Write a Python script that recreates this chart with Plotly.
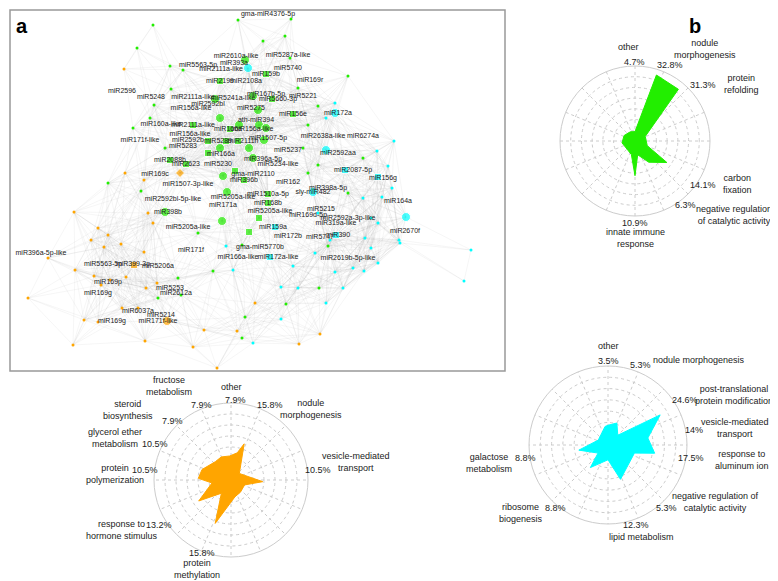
import math
import plotly.graph_objects as go

W, H = 778, 581
GREEN, ORANGE, CYAN = "#22ee00", "#ffa500", "#00ffff"

# ---------------- network (pixel positions) ----------------
big_nodes = [  # x, y, colour, symbol
    (237, 52, "g", "circle"), (240, 60, "c", "circle"), (258, 66, "g", "square"), (212, 73, "g", "square"),
    (207, 91, "g", "circle"), (245, 88, "g", "circle"), (264, 91, "g", "square"), (250, 102, "g", "circle"),
    (285, 106, "g", "square"), (327, 105, "c", "circle"), (212, 110, "g", "circle"), (231, 117, "g", "circle"),
    (185, 117, "g", "square"), (251, 117, "g", "circle"), (258, 120, "g", "circle"), (222, 121, "g", "square"),
    (256, 132, "g", "circle"), (200, 133, "g", "square"), (218, 133, "g", "square"), (230, 133, "g", "square"),
    (241, 140, "g", "circle"), (318, 142, "c", "circle"), (162, 152, "g", "square"), (178, 156, "g", "square"),
    (172, 165, "o", "diamond"), (215, 168, "g", "circle"), (227, 163, "g", "square"), (337, 162, "c", "square"),
    (370, 169, "c", "square"), (236, 172, "g", "square"), (305, 184, "c", "circle"), (260, 186, "g", "square"),
    (219, 184, "g", "circle"), (260, 195, "g", "square"), (157, 204, "g", "circle"), (214, 213, "g", "circle"),
    (251, 210, "g", "square"), (241, 224, "g", "square"), (398, 209, "c", "circle"), (267, 219, "c", "square"),
    (328, 227, "c", "square"), (262, 249, "c", "square"), (126, 257, "o", "square"), (159, 313, "o", "circle"),
    (200, 145, "g", "square"), (212, 140, "g", "circle"), (245, 150, "g", "circle"),
]
small_nodes = [
    (66, 204, "o"), (90, 220, "o"), (100, 227, "o"), (140, 205, "o"), (145, 215, "o"), (83, 232, "o"),
    (96, 239, "o"), (113, 236, "o"), (136, 244, "o"), (67, 262, "o"), (86, 268, "o"), (118, 269, "o"),
    (93, 277, "o"), (102, 272, "o"), (138, 280, "o"), (149, 275, "o"), (114, 300, "o"), (90, 314, "o"),
    (76, 312, "o"), (65, 337, "o"), (137, 333, "o"), (185, 339, "o"), (209, 360, "o"), (247, 295, "o"),
    (229, 323, "o"), (196, 322, "o"), (130, 300, "o"), (291, 336, "o"), (116, 61, "o"), (117, 165, "o"),
    (136, 172, "o"), (40, 250, "o"), (20, 290, "o"), (312, 326, "o"),
    (145, 17, "g"), (129, 40, "g"), (162, 58, "g"), (175, 62, "g"), (255, 33, "g"), (277, 28, "g"),
    (340, 68, "g"), (290, 80, "g"), (282, 50, "g"), (163, 81, "g"), (146, 97, "g"), (142, 110, "g"),
    (157, 140, "g"), (133, 183, "g"), (190, 225, "g"), (234, 237, "g"), (205, 263, "g"), (320, 238, "g"),
    (234, 330, "g"), (237, 309, "g"), (278, 296, "g"), (150, 290, "g"), (173, 287, "g"), (170, 270, "g"),
    (100, 175, "g"), (125, 120, "g"), (300, 165, "g"), (340, 185, "g"), (295, 140, "g"), (310, 157, "g"),
    (310, 98, "g"), (300, 117, "g"), (355, 150, "g"), (283, 11, "g"), (230, 12, "g"), (311, 280, "g"),
    (318, 110, "c"), (327, 95, "c"), (355, 190, "c"), (363, 210, "c"), (357, 230, "c"), (335, 280, "c"),
    (290, 280, "c"), (307, 245, "c"), (285, 258, "c"), (318, 295, "c"), (356, 263, "c"), (392, 235, "c"),
    (374, 189, "c"), (384, 180, "c"), (370, 215, "c"), (345, 260, "c"), (370, 255, "c"), (363, 240, "c"),
    (273, 279, "c"), (225, 262, "c"), (218, 238, "c"), (310, 205, "c"), (322, 232, "c"), (380, 158, "c"),
    (386, 133, "c"), (369, 143, "c"), (391, 232, "c"), (273, 311, "c"), (245, 335, "c"),
    (463, 242, "c"), (456, 273, "c"), (327, 264, "c"),
]
node_labels = [
    ("gma-miR4376-5p", 260, 6), ("miR2610a-like", 228, 48), ("miR5287a-like", 280, 47), ("miR5563-5p", 190, 57),
    ("miR393a", 226, 55), ("miR2111a-like", 213, 61), ("miR5740", 280, 60), ("miR159b", 258, 66),
    ("miR169r", 302, 72), ("miR2199", 212, 73), ("miR2108a", 238, 73), ("miR2596", 114, 83), ("miR5248", 143, 89),
    ("miR5221", 295, 88), ("miR2111a-like", 185, 89), ("miR2592bl", 200, 96), ("miR5241a-like", 225, 90),
    ("miR167b-5p", 258, 86), ("miR5660-3p", 270, 91), ("miR156a-like", 183, 100), ("miR5275", 243, 100),
    ("miR156e", 285, 106), ("miR172a", 330, 105), ("ath-miR394", 248, 112), ("miR160a-like", 153, 116),
    ("miR2111a-like", 185, 117), ("miR166a", 220, 121), ("miR156a-like", 245, 121), ("miR6274a", 355, 128),
    ("miR171f-like", 132, 132), ("miR156a-like", 182, 126), ("miR1507-5p", 260, 130), ("miR2638a-like", 315, 128),
    ("miR2592b", 180, 132), ("miR5289", 210, 133), ("miR2111h", 235, 133), ("miR5283", 175, 138),
    ("miR2592aa", 330, 145), ("miR5237", 280, 142), ("miR166a", 213, 146), ("miR396a-5p", 255, 151),
    ("miR2088b", 162, 152), ("miR2623", 178, 156), ("miR5230", 210, 156), ("miR5234-like", 270, 156),
    ("miR169c", 147, 166), ("gma-miR2110", 245, 166), ("miR2087-5p", 345, 162), ("miR156g", 375, 170),
    ("miR1507-3p-like", 180, 176), ("miR396b", 236, 172), ("miR162", 280, 174), ("sly-miR482", 305, 184),
    ("miR398a-5p", 320, 180), ("miR1510a-5p", 260, 186), ("miR2592bl-5p-like", 165, 191),
    ("miR5205a-like", 225, 189), ("miR164a", 390, 193), ("miR168b", 260, 195), ("miR171a", 215, 197),
    ("miR398b", 160, 204), ("miR5205a-like", 262, 203), ("miR5215", 313, 201), ("miR169d-5p", 300, 207),
    ("miR2592a-3p-like", 340, 210), ("miR319a-like", 328, 215), ("miR5205a-like", 180, 219),
    ("miR159a", 265, 219), ("miR2670f", 397, 223), ("miR172b", 280, 228), ("miR5747", 312, 229),
    ("miR390", 330, 227), ("gma-miR5770b", 252, 239), ("miR171f", 183, 242), ("miR396a-5p-like", 33, 245),
    ("miR166a-like", 230, 249), ("miR172a-like", 270, 249), ("miR2619b-5p-like", 340, 250),
    ("miR5563-5p", 95, 256), ("miR399-3p", 125, 256), ("miR5206a", 150, 258), ("miR169p", 100, 274),
    ("miR5253", 162, 280), ("miR169g", 90, 285), ("miR2612a", 168, 285), ("miR6037a", 130, 303),
    ("miR5214", 153, 307), ("miR169g", 104, 313), ("miR171f-like", 150, 313),
]

# ---------------- radar data ----------------
green_theta = [0, 18, 40, 66, 111, 124, 147, 169, 180, 195, 262, 297, 333]
green_r = [10, 74, 72, 12, 14, 41, 27, 15, 37, 15, 14, 13, 11]
green_labels = [("other", 620, 39), ("4.7%", 626, 54), ("nodule<br>morphogenesis", 697, 41), ("32.8%", 662, 57),
                ("31.3%", 695, 77), ("protein<br>refolding", 733, 76), ("14.1%", 695, 177),
                ("carbon<br>fixation", 729, 176), ("6.3%", 677, 197),
                ("negative regulation<br>of catalytic activity", 726, 207), ("10.9%", 627, 215),
                ("innate immune<br>response", 627, 230)]

orange_theta = [357, 13, 20, 52, 93, 110, 142, 167, 200, 216, 237, 261, 273, 290, 320, 337]
orange_r = [25, 29, 40, 11, 33, 15, 16, 18, 48, 17, 40, 20, 34, 32, 25, 26]
orange_labels = [("fructose<br>metabolism", 161, 378), ("other", 223, 379), ("7.9%", 193, 397), ("7.9%", 227, 392),
                 ("15.8%", 262, 397), ("nodule<br>morphogenesis", 303, 401), ("steroid<br>biosynthesis", 120, 402),
                 ("7.9%", 164, 413), ("glycerol ether<br>metabolism", 107, 430), ("10.5%", 147, 436),
                 ("vesicle-mediated<br>transport", 348, 454), ("10.5%", 310, 462),
                 ("protein<br>polymerization", 107, 466), ("10.5%", 137, 462),
                 ("response to<br>hormone stimulus", 114, 522), ("13.2%", 151, 517), ("15.8%", 194, 545),
                 ("protein<br>methylation", 189, 561)]

cyan_theta = [0, 22, 45, 60, 80, 100, 107, 160, 180, 218, 231, 260, 297, 351]
cyan_r = [20, 24, 14, 61, 41, 48, 28, 37, 15, 29, 13, 30, 11, 19]
cyan_labels = [("other", 600, 338), ("3.5%", 600, 353), ("5.3%", 632, 357), ("nodule morphogenesis", 691, 352),
               ("post-translational<br>protein modification", 726, 387), ("24.6%", 677, 392), ("14%", 686, 422),
               ("vesicle-mediated<br>transport", 727, 420), ("17.5%", 683, 450),
               ("response to<br>aluminum ion", 734, 452), ("negative regulation of<br>catalytic activity", 707, 494),
               ("5.3%", 658, 500), ("12.3%", 628, 517), ("lipid metabolism", 633, 529),
               ("galactose<br>metabolism", 481, 455), ("8.8%", 517, 450), ("ribosome<br>biogenesis", 513, 505),
               ("8.8%", 547, 500)]

# ---------------- build ----------------
cmap = {"g": GREEN, "o": ORANGE, "c": CYAN}
fig = go.Figure()

pts = [(x, y) for x, y, *_ in big_nodes] + [(x, y) for x, y, _ in small_nodes]
ex, ey = [], []
for i in range(len(pts)):
    for j in range(i + 1, len(pts)):
        if math.dist(pts[i], pts[j]) < 80:
            ex += [pts[i][0], pts[j][0], None]
            ey += [pts[i][1], pts[j][1], None]
fig.add_trace(go.Scatter(x=ex, y=ey, mode="lines", line=dict(color="rgba(140,140,140,0.13)", width=0.6),
                         hoverinfo="skip", showlegend=False))
fig.add_trace(go.Scatter(x=[p[0] for p in small_nodes], y=[p[1] for p in small_nodes], mode="markers",
                         marker=dict(size=3, color=[cmap[p[2]] for p in small_nodes]), showlegend=False))
fig.add_trace(go.Scatter(x=[p[0] for p in big_nodes], y=[p[1] for p in big_nodes], mode="markers",
                         marker=dict(size=[9 if p[3] == "circle" else 7 for p in big_nodes],
                                     color=[cmap[p[2]] for p in big_nodes], symbol=[p[3] for p in big_nodes]),
                         showlegend=False))
fig.add_trace(go.Scatter(x=[l[1] for l in node_labels], y=[l[2] for l in node_labels], mode="text",
                         text=[l[0] for l in node_labels], textfont=dict(size=7, color="#222"), showlegend=False))

def px(x): return x / W
def py(y): return 1 - y / H

fig.update_layout(
    xaxis=dict(domain=[px(2), px(497)], range=[2, 497], visible=False),
    yaxis=dict(domain=[py(363), py(2)], range=[363, 2], visible=False),
)

radars = [("polar", green_theta, green_r, GREEN, (627, 133), 75, 80),
          ("polar2", orange_theta, orange_r, ORANGE, (223, 472), 77, 80),
          ("polar3", cyan_theta, cyan_r, CYAN, (600, 437), 79, 80)]
for name, th, r, col, (cx, cy), rad, rmax in radars:
    fig.add_trace(go.Scatterpolar(theta=th + [th[0]], r=r + [r[0]], fill="toself", fillcolor=col,
                                  mode="lines", line=dict(color=col, width=1), subplot=name, showlegend=False))
    fig.layout[name] = dict(
        domain=dict(x=[px(cx - rad), px(cx + rad)], y=[py(cy + rad), py(cy - rad)]),
        gridshape="linear", bgcolor="rgba(0,0,0,0)",
        angularaxis=dict(rotation=90, direction="clockwise", tickvals=[k * 22.5 for k in range(16)],
                         showticklabels=False, ticks="", gridcolor="#cccccc", griddash="dot",
                         linecolor="#cccccc", showline=True, layer="below traces"),
        radialaxis=dict(range=[0, rmax], dtick=rmax / 7, showticklabels=False, ticks="", showline=False,
                        gridcolor="#cccccc", griddash="dot", layer="below traces"),
    )

ann = []
for labels in (green_labels, orange_labels, cyan_labels):
    for t, x, y in labels:
        ann.append(dict(text=t, x=px(x), y=py(y), xref="paper", yref="paper", showarrow=False,
                        xanchor="center", yanchor="middle",
                        font=dict(size=9, color="#222"), align="center"))
ann.append(dict(text="<b>a</b>", x=px(14), y=py(18), xref="paper", yref="paper", showarrow=False,
                xanchor="center", yanchor="middle", font=dict(size=20, color="#000")))
ann.append(dict(text="<b>b</b>", x=px(687), y=py(18), xref="paper", yref="paper", showarrow=False,
                xanchor="center", yanchor="middle", font=dict(size=20, color="#000")))

fig.update_layout(
    width=W, height=H, margin=dict(l=0, r=0, t=0, b=0),
    paper_bgcolor="white", plot_bgcolor="white",
    font=dict(family="Liberation Sans, Arial, sans-serif"),
    annotations=ann,
    shapes=[dict(type="rect", xref="paper", yref="paper", x0=px(2), x1=px(497), y0=py(363), y1=py(2),
                 line=dict(color="#999", width=1.5))],
)
fig.write_html("out.html")
